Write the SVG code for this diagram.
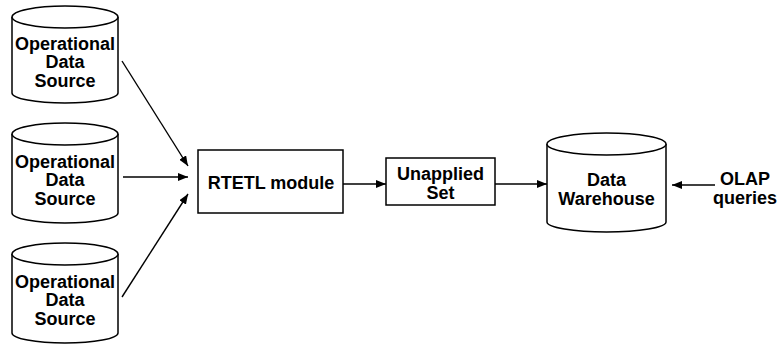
<svg xmlns="http://www.w3.org/2000/svg" width="778" height="349" viewBox="0 0 778 349">
<style>
.shape{fill:#fff;stroke:#000;stroke-width:1.5}
.lbl{font-family:"Liberation Sans",Arial,sans-serif;font-weight:bold;font-size:18px;fill:#000;text-anchor:middle}
.conn{stroke:#000;stroke-width:1.4;fill:none;marker-end:url(#ah)}
</style>
<defs>
<marker id="ah" viewBox="0 0 10 8" refX="10" refY="4" markerWidth="10" markerHeight="8" markerUnits="userSpaceOnUse" orient="auto">
<path d="M0,0 L10,4 L0,8 Z" fill="#000"/>
</marker>
</defs>
<rect width="778" height="349" fill="#fff"/>
<g id="connectors">
<line class="conn" x1="122" y1="61" x2="188" y2="166"/>
<line class="conn" x1="123" y1="177" x2="188" y2="177"/>
<line class="conn" x1="122" y1="297" x2="188" y2="194"/>
<line class="conn" x1="343" y1="184" x2="386" y2="184"/>
<line class="conn" x1="495" y1="184" x2="547" y2="184"/>
<line class="conn" x1="715" y1="185" x2="672" y2="185"/>
</g>
<g id="src1">
<path class="shape" d="M12,17 L12,93 A53,10 0 0 0 118,93 L118,17"/>
<ellipse class="shape" cx="65" cy="17" rx="53" ry="11"/>
<text class="lbl" x="65" y="49.5">Operational</text>
<text class="lbl" x="65" y="68">Data</text>
<text class="lbl" x="65" y="86.5">Source</text>
</g>
<g id="src2">
<path class="shape" d="M12,134 L12,213 A53,10 0 0 0 118,213 L118,134"/>
<ellipse class="shape" cx="65" cy="134" rx="53" ry="11"/>
<text class="lbl" x="65" y="167.5">Operational</text>
<text class="lbl" x="65" y="186">Data</text>
<text class="lbl" x="65" y="204.5">Source</text>
</g>
<g id="src3">
<path class="shape" d="M12,254 L12,333 A53,10 0 0 0 118,333 L118,254"/>
<ellipse class="shape" cx="65" cy="254" rx="53" ry="11"/>
<text class="lbl" x="65" y="287.5">Operational</text>
<text class="lbl" x="65" y="306">Data</text>
<text class="lbl" x="65" y="324.5">Source</text>
</g>
<g id="rtetl">
<rect class="shape" x="198" y="150" width="145" height="63"/>
<text class="lbl" x="271" y="188.5">RTETL module</text>
</g>
<g id="unapplied">
<rect class="shape" x="386" y="158" width="109" height="47"/>
<text class="lbl" x="440.5" y="179.5">Unapplied</text>
<text class="lbl" x="440.5" y="198.5">Set</text>
</g>
<g id="dw">
<path class="shape" d="M547,144 L547,222 A59.5,10 0 0 0 666,222 L666,144"/>
<ellipse class="shape" cx="606.5" cy="144" rx="59.5" ry="11"/>
<text class="lbl" x="606.5" y="186">Data</text>
<text class="lbl" x="606.5" y="204.5">Warehouse</text>
</g>
<g id="olap">
<text class="lbl" x="745" y="185">OLAP</text>
<text class="lbl" x="745" y="203.5">queries</text>
</g>
</svg>
